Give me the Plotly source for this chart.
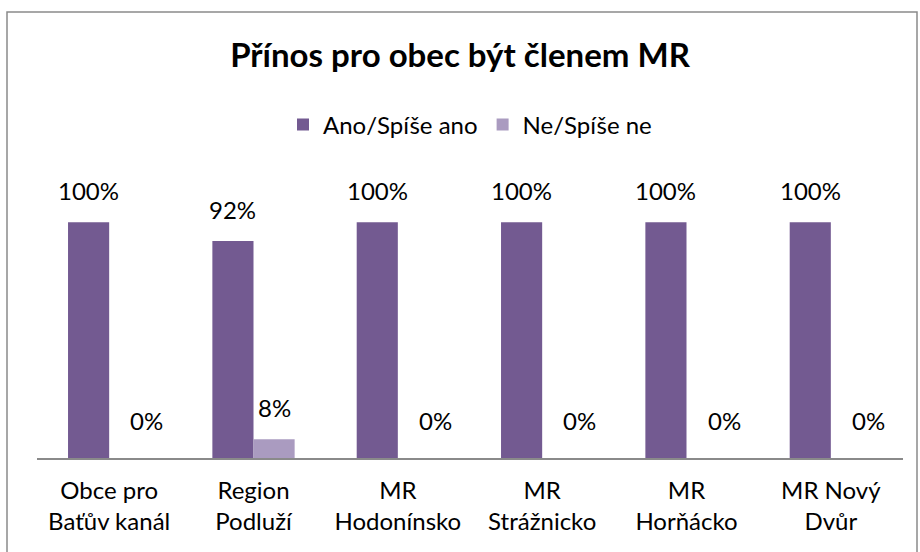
import plotly.graph_objects as go

categories = ["Obce pro<br>Baťův kanál", "Region<br>Podluží", "MR<br>Hodonínsko",
              "MR<br>Strážnicko", "MR<br>Horňácko", "MR Nový<br>Dvůr"]
ano = [1.00, 0.92, 1.00, 1.00, 1.00, 1.00]
ne = [0.00, 0.08, 0.00, 0.00, 0.00, 0.00]
series_names = ["Ano/Spíše ano", "Ne/Spíše ne"]
colors = ["#735A91", "#AA9BC0"]

FONT = "Lato, Calibri, Carlito, sans-serif"

W, H = 920, 552
L, R, T, B = 37, 17, 175, 94
pw, ph = W - L - R, H - T - B
BARGAP = 0.43
bar_px = pw / len(categories) * (1 - BARGAP) / 2

fig = go.Figure()
for name, vals, col in zip(series_names, [ano, ne], colors):
    fig.add_trace(go.Bar(
        x=categories, y=vals, name=name, marker_color=col, marker_line_width=0,
        hoverinfo="skip",
    ))

# value labels
for si, vals in enumerate([ano, ne]):
    off = (si - 0.5) * bar_px
    for c, v in zip(categories, vals):
        fig.add_annotation(
            x=c, y=v, xref="x", yref="y", text=f"{round(v*100)}%",
            showarrow=False, yanchor="bottom", xanchor="center",
            xshift=off + (17 if v == 0 else 0), yshift=15 if v > 0 else 21,
            font=dict(size=24, family=FONT, color="#000000"),
        )

def px(x):
    return (x - L) / pw

def py(y):
    return (H - B - y) / ph

fig.add_shape(type="rect", xref="paper", yref="paper",
              x0=px(7), x1=px(917), y0=py(12), y1=py(570),
              line=dict(color="#8a8a8a", width=1.5), fillcolor="rgba(0,0,0,0)", layer="below")

fig.update_layout(
    width=W, height=H,
    margin=dict(l=L, r=R, t=T, b=B),
    paper_bgcolor="white", plot_bgcolor="white",
    barmode="group", bargap=BARGAP, bargroupgap=0,
    font=dict(family=FONT, size=24, color="#000000"),
    title=dict(text="<b>Přínos pro obec být členem MR</b>", x=0.5, xanchor="center",
               y=1 - 55 / H, yanchor="middle", yref="container",
               font=dict(size=33, family=FONT, color="#000000")),
    legend=dict(orientation="h", x=0.5, xanchor="center", y=1 - 125 / H, yanchor="middle",
                yref="container", font=dict(size=24, family=FONT), itemwidth=30,
                traceorder="normal"),
    xaxis=dict(showline=True, linecolor="#8a8a8a", linewidth=1.5, ticks="",
               showgrid=False, tickfont=dict(size=24, family=FONT), fixedrange=True,
               ticklabelstandoff=10),
    yaxis=dict(range=[0, 1.2], visible=False, showgrid=False, zeroline=False, fixedrange=True),
)

fig.write_html("out.html", config={"displayModeBar": False},
               post_script="document.body.style.margin='0';")
